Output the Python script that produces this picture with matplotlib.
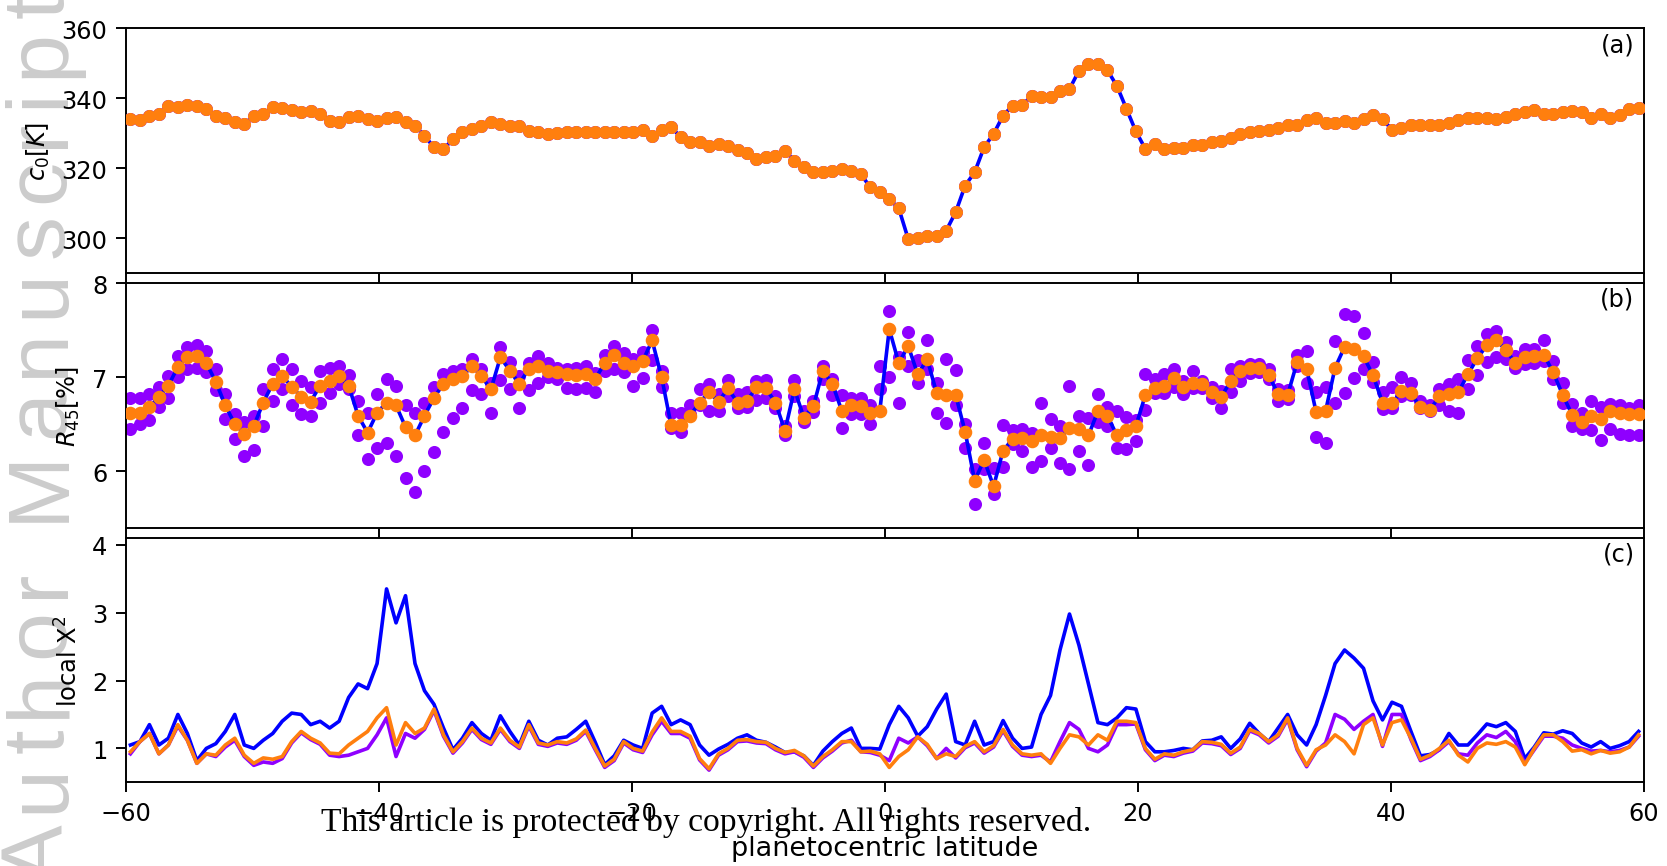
import numpy as np
import matplotlib
matplotlib.use("Agg")
import matplotlib.pyplot as plt
from matplotlib.font_manager import findfont, FontProperties
from matplotlib.ft2font import FT2Font

# ---------------------------------------------------------------- data
# latitude grid of the retrievals (0.75 deg steps)
lat = np.round(-59.65 + 0.75 * np.arange(160), 2)

# (a) c0 [K]
c0 = [
    334.1, 333.9, 335.0, 335.5, 337.7, 337.4, 338.1, 337.9, 336.9, 335.0,
    334.2, 333.1, 332.6, 335.0, 335.5, 337.4, 337.1, 336.6, 336.0, 336.4,
    335.5, 333.6, 333.1, 334.5, 335.0, 334.0, 333.5, 334.3, 334.6, 333.3,
    332.1, 329.3, 325.9, 325.4, 328.3, 330.2, 331.2, 332.1, 333.1, 332.6,
    332.1, 332.1, 330.7, 330.2, 329.8, 330.0,
    330.2, 330.4, 330.2, 330.4, 330.2, 330.2, 330.2, 330.2, 330.9, 329.3,
    330.9, 331.9, 328.8, 327.5, 327.5, 326.4, 326.8, 326.4, 325.2, 324.3,
    322.6, 323.1, 323.4, 325.0, 322.1, 320.2, 318.8, 319.0, 319.3, 319.8,
    319.3, 318.3, 314.5, 313.1, 311.2, 308.5, 299.7, 300.0, 300.5, 300.7,
    302.1, 307.4, 315.0, 318.8, 326.0, 329.8, 335.0, 337.9, 338.1, 340.5,
    340.3, 340.3, 342.2, 342.6, 347.9, 349.8, 349.8, 348.0, 343.5,
    337.0, 330.5, 325.5, 326.8, 325.6, 325.8, 325.8, 326.5, 326.6, 327.4,
    327.9, 328.5, 329.9, 330.4, 330.5, 330.8, 331.5, 332.4, 332.4, 333.7,
    334.3, 332.9, 333.0, 333.6, 332.8, 334.0, 335.1, 334.0, 331.0, 331.5,
    332.2, 332.4, 332.2, 332.4, 333.0, 333.7, 334.3, 334.4, 334.2, 334.1,
    334.5, 335.6, 336.1, 336.6, 335.5, 335.5, 336.0, 336.2, 336.0, 334.2,
    335.5, 334.4, 335.3, 336.8, 337.1,
]

# (b) R45 [%]: best fit and two alternative retrievals
r45_best = [
    6.62, 6.62, 6.68, 6.79, 6.91, 7.11, 7.21, 7.22, 7.15, 6.95,
    6.70, 6.50, 6.40, 6.48, 6.73, 6.93, 7.01, 6.90, 6.79, 6.74,
    6.91, 6.96, 7.01, 6.91, 6.59, 6.41, 6.62, 6.73, 6.70, 6.47,
    6.38, 6.59, 6.78, 6.93, 6.98, 7.01, 7.12, 7.01, 6.87, 7.21,
    7.07, 6.93, 7.09, 7.12, 7.07, 7.05,
    7.03, 7.02, 7.03, 6.98, 7.15, 7.24, 7.15, 7.12, 7.17, 7.39,
    7.00, 6.49, 6.49, 6.59, 6.73, 6.84, 6.74, 6.88, 6.73, 6.75,
    6.89, 6.88, 6.73, 6.43, 6.87, 6.57, 6.69, 7.07, 6.93, 6.64,
    6.70, 6.69, 6.62, 6.64, 7.51, 7.15, 7.33, 7.03, 7.19, 6.83,
    6.81, 6.81, 6.42, 5.90, 6.12, 5.84, 6.22, 6.34, 6.35, 6.32,
    6.38, 6.36, 6.35, 6.46, 6.45, 6.38, 6.64, 6.59, 6.38,
    6.44, 6.48, 6.81, 6.88, 6.91, 6.99, 6.89, 6.94, 6.93, 6.84,
    6.79, 6.96, 7.07, 7.10, 7.10, 7.02, 6.82, 6.81, 7.16, 7.09,
    6.63, 6.64, 7.10, 7.32, 7.30, 7.22, 7.02, 6.73, 6.72, 6.85,
    6.83, 6.68, 6.65, 6.80, 6.82, 6.84, 7.03, 7.20, 7.34, 7.39,
    7.29, 7.15, 7.21, 7.22, 7.24, 7.05, 6.81, 6.60, 6.52, 6.59,
    6.55, 6.64, 6.62, 6.61, 6.61,
]
r45_alt_hi = [
    6.78, 6.78, 6.82, 6.90, 7.01, 7.22, 7.32, 7.34, 7.28, 7.09,
    6.82, 6.61, 6.52, 6.59, 6.87, 7.09, 7.19, 7.09, 6.96, 6.89,
    7.07, 7.10, 7.12, 7.02, 6.75, 6.62, 6.82, 6.98, 6.91, 6.70,
    6.62, 6.73, 6.89, 7.03, 7.07, 7.09, 7.19, 7.09, 6.94, 7.32,
    7.16, 7.01, 7.15, 7.22, 7.15, 7.10,
    7.09, 7.10, 7.12, 7.04, 7.23, 7.33, 7.26, 7.19, 7.27, 7.50,
    7.07, 6.62, 6.62, 6.70, 6.87, 6.93, 6.82, 6.97, 6.82, 6.84,
    6.96, 6.97, 6.80, 6.48, 6.97, 6.64, 6.75, 7.12, 6.98, 6.81,
    6.78, 6.78, 6.70, 7.12, 7.70, 7.21, 7.48, 7.18, 7.39, 6.94,
    7.19, 7.08, 6.50, 6.02, 6.30, 6.03, 6.49, 6.44, 6.45, 6.41,
    6.73, 6.56, 6.48, 6.91, 6.59, 6.57, 6.82, 6.68, 6.64,
    6.58, 6.54, 7.03, 6.98, 7.03, 7.09, 6.96, 7.07, 6.96, 6.90,
    6.85, 7.09, 7.12, 7.14, 7.14, 7.09, 6.87, 6.86, 7.24, 7.28,
    6.84, 6.89, 7.38, 7.67, 7.65, 7.47, 7.16, 6.84, 6.90, 7.00,
    6.94, 6.75, 6.70, 6.87, 6.93, 6.98, 7.18, 7.33, 7.46, 7.49,
    7.37, 7.22, 7.30, 7.30, 7.39, 7.17, 6.94, 6.71, 6.62, 6.75,
    6.68, 6.71, 6.70, 6.67, 6.70,
]
r45_alt_lo = [
    6.45, 6.50, 6.54, 6.68, 6.78, 7.00, 7.09, 7.10, 7.05, 6.86,
    6.55, 6.34, 6.16, 6.23, 6.48, 6.75, 6.87, 6.70, 6.61, 6.59,
    6.73, 6.83, 6.93, 6.87, 6.38, 6.13, 6.25, 6.30, 6.16, 5.93,
    5.78, 6.00, 6.20, 6.42, 6.57, 6.67, 6.86, 6.82, 6.62, 6.97,
    6.87, 6.67, 6.86, 6.94, 7.00, 6.98,
    6.88, 6.87, 6.88, 6.84, 7.07, 7.09, 7.05, 6.91, 6.99, 7.18,
    6.90, 6.46, 6.42, 6.61, 6.70, 6.64, 6.64, 6.80, 6.67, 6.68,
    6.76, 6.78, 6.67, 6.39, 6.80, 6.52, 6.63, 6.98, 6.81, 6.46,
    6.61, 6.61, 6.50, 6.87, 7.00, 6.72, 7.12, 6.94, 7.09, 6.62,
    6.51, 6.70, 6.25, 5.65, 6.02, 5.76, 6.04, 6.29, 6.22, 6.05,
    6.11, 6.25, 6.09, 6.02, 6.22, 6.07, 6.52, 6.48, 6.25,
    6.24, 6.32, 6.65, 6.83, 6.83, 6.89, 6.82, 6.88, 6.88, 6.78,
    6.67, 6.84, 6.96, 7.04, 7.05, 6.98, 6.75, 6.77, 7.12, 6.94,
    6.36, 6.30, 6.73, 6.83, 6.99, 7.09, 6.95, 6.66, 6.67, 6.80,
    6.81, 6.67, 6.64, 6.70, 6.64, 6.62, 6.87, 7.02, 7.16, 7.21,
    7.19, 7.10, 7.14, 7.15, 7.17, 6.98, 6.73, 6.48, 6.45, 6.44,
    6.33, 6.45, 6.40, 6.38, 6.38,
]

# (c) local chi^2 of the three retrievals
chi2_blue = [
    1.05, 1.10, 1.35, 1.05, 1.15, 1.50, 1.22, 0.82, 1.00, 1.07,
    1.25, 1.50, 1.05, 1.00, 1.12, 1.22, 1.40, 1.52, 1.50, 1.35,
    1.40, 1.30, 1.40, 1.75, 1.95, 1.88, 2.25, 3.35, 2.85, 3.25,
    2.25, 1.85, 1.65, 1.30, 0.98, 1.15, 1.38, 1.22, 1.12, 1.48,
    1.25, 1.05, 1.40, 1.12, 1.05, 1.15,
    1.17, 1.28, 1.40, 1.09, 0.76, 0.89, 1.12, 1.05, 1.00, 1.52,
    1.62, 1.35, 1.42, 1.35, 1.05, 0.90, 0.99, 1.06, 1.15, 1.20,
    1.12, 1.09, 1.02, 0.94, 0.95, 0.89, 0.75, 0.96, 1.10, 1.22,
    1.30, 1.00, 1.00, 0.99, 1.35, 1.62, 1.45, 1.18, 1.32, 1.58,
    1.80, 1.10, 1.05, 1.40, 1.05, 1.10, 1.41, 1.15, 1.00, 1.02,
    1.50, 1.78, 2.45, 2.98, 2.52, 1.95, 1.38, 1.35, 1.45,
    1.60, 1.58, 1.10, 0.95, 0.95, 0.97, 1.00, 0.98, 1.11, 1.12,
    1.17, 1.00, 1.14, 1.37, 1.22, 1.10, 1.30, 1.50, 1.20, 1.05,
    1.35, 1.78, 2.25, 2.45, 2.33, 2.18, 1.70, 1.42, 1.68, 1.62,
    1.25, 0.89, 0.91, 0.98, 1.22, 1.05, 1.05, 1.20, 1.36, 1.32,
    1.38, 1.25, 0.85, 1.02, 1.23, 1.21, 1.26, 1.22, 1.08, 1.02,
    1.10, 1.00, 1.04, 1.10, 1.25,
]
chi2_purple = [
    0.92, 1.10, 1.22, 0.92, 1.05, 1.33, 1.12, 0.78, 0.92, 0.88,
    1.02, 1.12, 0.88, 0.75, 0.80, 0.78, 0.85, 1.08, 1.23, 1.13,
    1.06, 0.90, 0.88, 0.90, 0.95, 1.00, 1.20, 1.45, 0.88, 1.22,
    1.15, 1.28, 1.56, 1.18, 0.93, 1.08, 1.28, 1.13, 1.06, 1.28,
    1.10, 1.00, 1.33, 1.06, 1.03, 1.08,
    1.06, 1.12, 1.25, 0.98, 0.72, 0.82, 1.08, 0.98, 0.94, 1.20,
    1.40, 1.22, 1.22, 1.15, 0.83, 0.68, 0.90, 0.98, 1.10, 1.11,
    1.08, 1.07, 0.98, 0.92, 0.95, 0.87, 0.72, 0.86, 0.96, 1.08,
    1.12, 0.95, 0.94, 0.90, 0.82, 1.15, 1.08, 1.17, 1.04, 0.85,
    1.00, 0.86, 1.01, 1.08, 0.93, 1.02, 1.26, 1.03, 0.90, 0.88,
    0.90, 0.80, 1.10, 1.38, 1.28, 1.00, 0.95, 1.05, 1.35,
    1.35, 1.36, 0.98, 0.82, 0.90, 0.88, 0.93, 0.96, 1.08, 1.07,
    1.04, 0.91, 1.00, 1.26, 1.20, 1.08, 1.18, 1.43, 0.98, 0.73,
    0.96, 1.08, 1.50, 1.43, 1.28, 1.40, 1.50, 1.03, 1.50, 1.50,
    1.13, 0.82, 0.88, 0.98, 1.10, 0.92, 0.90, 1.08, 1.20, 1.16,
    1.25, 1.10, 0.78, 0.98, 1.18, 1.18, 1.15, 1.05, 1.00, 0.96,
    0.97, 0.95, 0.97, 1.02, 1.18,
]
chi2_orange = [
    0.95, 1.10, 1.22, 0.92, 1.05, 1.35, 1.12, 0.78, 0.92, 0.90,
    1.05, 1.15, 0.90, 0.78, 0.86, 0.84, 0.88, 1.10, 1.25, 1.15,
    1.08, 0.93, 0.92, 1.05, 1.15, 1.25, 1.45, 1.60, 1.05, 1.38,
    1.22, 1.30, 1.58, 1.20, 0.95, 1.10, 1.30, 1.15, 1.08, 1.30,
    1.12, 1.02, 1.35, 1.08, 1.05, 1.10,
    1.08, 1.14, 1.27, 1.00, 0.74, 0.84, 1.10, 1.00, 0.96, 1.24,
    1.45, 1.25, 1.25, 1.18, 0.85, 0.70, 0.92, 1.00, 1.12, 1.13,
    1.10, 1.09, 1.00, 0.94, 0.97, 0.89, 0.74, 0.88, 0.98, 1.10,
    1.10, 0.95, 0.96, 0.92, 0.72, 0.88, 0.98, 1.17, 1.06, 0.85,
    0.92, 0.88, 1.03, 1.10, 0.95, 1.04, 1.28, 1.05, 0.92, 0.90,
    0.92, 0.78, 1.00, 1.20, 1.17, 1.05, 1.20, 1.12, 1.40,
    1.40, 1.38, 1.00, 0.84, 0.92, 0.90, 0.95, 0.98, 1.10, 1.09,
    1.06, 0.93, 1.02, 1.28, 1.22, 1.10, 1.20, 1.45, 1.00, 0.75,
    0.98, 1.05, 1.20, 1.10, 0.92, 1.35, 1.45, 1.05, 1.38, 1.42,
    1.15, 0.84, 0.90, 1.00, 1.12, 0.90, 0.80, 1.00, 1.08, 1.06,
    1.10, 1.02, 0.76, 1.00, 1.20, 1.20, 1.10, 0.96, 0.98, 0.92,
    0.97, 0.93, 0.95, 1.02, 1.20,
]

xticks = [-60, -40, -20, 0, 20, 40, 60]
panel_tags = ["(a)", "(b)", "(c)"]

# ---------------------------------------------------------------- style
DPI = 174
FIG_W, FIG_H = 1667, 867
BLUE, PURPLE, ORANGE = "#0000ff", "#8f00ff", "#ff7f0e"
plt.rcParams.update({
    "font.family": "DejaVu Sans",
    "font.size": 10,
    "mathtext.fontset": "dejavusans",
    "xtick.major.size": 4.2,
    "ytick.major.size": 4.2,
})

fig = plt.figure(figsize=(FIG_W / DPI, FIG_H / DPI), dpi=DPI)
fig.patch.set_facecolor("white")

L, W = 0.0756, 0.9104
ax_a = fig.add_axes([L, 0.6840, W, 0.2822])
ax_b = fig.add_axes([L, 0.3902, W, 0.2822])
ax_c = fig.add_axes([L, 0.0965, W, 0.2818])

MS = 4.4
LW = 1.5

# (a)
ax_a.plot(lat, c0, color=BLUE, lw=LW, zorder=2)
ax_a.plot(lat, c0, "o", color=PURPLE, ms=MS, zorder=3)
ax_a.plot(lat, c0, "o", color=ORANGE, ms=MS, zorder=4)
ax_a.set_ylim(290, 360)
ax_a.set_yticks([300, 320, 340, 360])
ax_a.set_ylabel(r"$c_0[K]$")

# (b)
ax_b.plot(lat, r45_alt_hi, "o", color=PURPLE, ms=MS, zorder=2)
ax_b.plot(lat, r45_alt_lo, "o", color=PURPLE, ms=MS, zorder=2)
ax_b.plot(lat, r45_best, color=BLUE, lw=LW, zorder=3)
ax_b.plot(lat, r45_best, "o", color=ORANGE, ms=MS + 0.2, zorder=4)
ax_b.set_ylim(5.4, 8.0)
ax_b.set_yticks([6, 7, 8])
ax_b.set_ylabel(r"$R_{45}[\%]$")

# (c)
ax_c.plot(lat, chi2_blue, color=BLUE, lw=LW, zorder=2)
ax_c.plot(lat, chi2_purple, color=PURPLE, lw=LW, zorder=3)
ax_c.plot(lat, chi2_orange, color=ORANGE, lw=LW, zorder=4)
ax_c.set_ylim(0.5, 4.1)
ax_c.set_yticks([1, 2, 3, 4])
ax_c.set_ylabel(r"local X$^2$")
ax_c.set_xlabel("planetocentric latitude", fontsize=11.2)

for ax, tag in zip([ax_a, ax_b, ax_c], panel_tags):
    ax.set_xlim(-60, 60)
    ax.set_xticks(xticks)
    ax.text(0.994, 0.984, tag, transform=ax.transAxes, ha="right", va="top")
for ax in (ax_a, ax_b):
    ax.tick_params(axis="x", labelbottom=False)


# ---------------------------------------------------------------- stamps
def spaced_vertical_text(text, x_px, y_px, size_pt, tracking_px, **kw):
    """Write text bottom-to-top, one glyph at a time, with extra letter spacing."""
    family = kw.pop("family")
    ft = FT2Font(findfont(FontProperties(family=family)))
    ft.set_size(1000, 72)
    em_px = size_pt * DPI / 72.0
    y = y_px
    for ch in text:
        fig.text(x_px / FIG_W, y / FIG_H, ch, rotation=90, rotation_mode="anchor",
                 ha="left", va="baseline", fontsize=size_pt, family=family, **kw)
        adv = ft.load_char(ord(ch)).linearHoriAdvance / 65536.0 / 1000.0
        y += adv * em_px + tracking_px


spaced_vertical_text("Author Manuscript", 63, -16, 36.4, 11.0,
                     family="Liberation Sans", color="#cccccc", zorder=-5)

fig.text(0.4238, 0.042, "This article is protected by copyright. All rights reserved.",
         ha="center", va="baseline", fontsize=13.9, family="Liberation Serif")

fig.savefig("out.png", dpi=DPI)
